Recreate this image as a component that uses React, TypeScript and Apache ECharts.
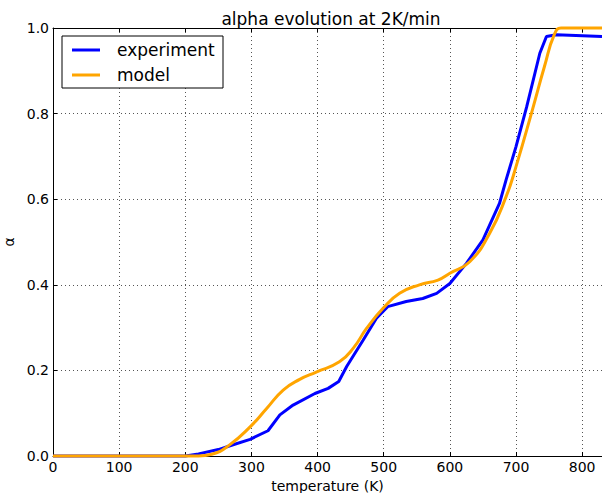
import React, { useEffect, useRef } from "react";
import * as echarts from "echarts";

const expT = [0, 200, 220, 250, 270, 298, 325, 343, 363, 396, 416, 432, 444, 469, 489, 506, 534, 559, 580, 600, 625, 650, 675, 685, 700, 716, 736, 746, 761, 830];
const expA = [0, 0, 0.005, 0.015, 0.025, 0.039, 0.059, 0.096, 0.119, 0.146, 0.158, 0.174, 0.209, 0.271, 0.322, 0.349, 0.361, 0.368, 0.38, 0.403, 0.45, 0.505, 0.59, 0.645, 0.723, 0.815, 0.941, 0.98, 0.984, 0.98];
const modT = [0, 220, 240, 267, 298, 323, 348, 373, 398, 433, 454, 474, 499, 524, 554, 582, 600, 630, 660, 685, 700, 725, 743, 758, 768, 830];
const modA = [0, 0, 0.004, 0.026, 0.068, 0.111, 0.154, 0.179, 0.196, 0.22, 0.252, 0.298, 0.345, 0.38, 0.4, 0.411, 0.427, 0.454, 0.52, 0.606, 0.676, 0.81, 0.91, 0.985, 1.0, 1.0];
const seriesNames = ["experiment", "model"];
const seriesColors = ["#0000ff", "#ffa500"];
const titleText = "alpha evolution at 2K/min";
const xName = "temperature (K)";
const yName = "α";

export default function App() {
  const ref = useRef<HTMLDivElement>(null);
  useEffect(() => {
    document.body.style.margin = "0";
    const chart = echarts.init(ref.current!, null, { renderer: "svg" });
    const font = "DejaVu Sans";
    const tickStyle = { inside: true, length: 4, lineStyle: { color: "#000" } };
    const split = { show: true, lineStyle: { color: "#555", type: [1, 3] as any, width: 1 } };
    chart.setOption({
      animation: false,
      textStyle: { fontFamily: font },
      title: {
        text: titleText, left: 326, textAlign: "center", top: 5,
        textStyle: { fontFamily: font, fontSize: 17, fontWeight: "normal", color: "#000" },
      },
      grid: { left: 53, top: 28, right: 0, bottom: 37, outerBoundsMode: "none", containLabel: false } as any,
      xAxis: [
        {
          type: "value", min: 0, max: 830, interval: 100,
          axisLine: { show: true, lineStyle: { color: "#000" } },
          axisTick: tickStyle,
          axisLabel: { color: "#000", fontSize: 14, fontFamily: font, margin: 4, showMaxLabel: false },
          splitLine: split,
          name: xName, nameLocation: "middle", nameGap: 19,
          nameTextStyle: { color: "#000", fontSize: 14, fontFamily: font },
        },
        {
          type: "value", position: "top", min: 0, max: 830, interval: 100,
          axisLine: { show: true, onZero: false, lineStyle: { color: "#000" } },
          axisTick: tickStyle, axisLabel: { show: false }, splitLine: { show: false },
        },
      ],
      yAxis: {
        type: "value", min: 0, max: 1, interval: 0.2,
        axisLine: { show: true, lineStyle: { color: "#000" } },
        axisTick: tickStyle,
        axisLabel: { color: "#000", fontSize: 14, fontFamily: font, margin: 4, formatter: (v: number) => v.toFixed(1) },
        splitLine: split,
        name: yName, nameLocation: "middle", nameGap: 33, nameRotate: 90,
        nameTextStyle: { color: "#000", fontSize: 14, fontFamily: font },
      },
      series: [
        {
          name: seriesNames[0], type: "line", showSymbol: false, clip: false,
          data: expT.map((t, i) => [t, expA[i]]),
          lineStyle: { color: seriesColors[0], width: 3 }, itemStyle: { color: seriesColors[0] },
        },
        {
          name: seriesNames[1], type: "line", showSymbol: false, clip: false,
          smooth: 0.5,
          data: modT.map((t, i) => [t, modA[i]]),
          lineStyle: { color: seriesColors[1], width: 3 }, itemStyle: { color: seriesColors[1] },
        },
      ],
      graphic: [
        { type: "rect", shape: { x: 62, y: 36, width: 161, height: 52 }, style: { fill: "#fff", stroke: "#000", lineWidth: 1 }, z: 100 },
        { type: "line", shape: { x1: 72, y1: 50, x2: 100, y2: 50 }, style: { stroke: seriesColors[0], lineWidth: 3 }, z: 101 },
        { type: "line", shape: { x1: 72, y1: 75, x2: 100, y2: 75 }, style: { stroke: seriesColors[1], lineWidth: 3 }, z: 101 },
        { type: "text", x: 117, y: 50, style: { text: seriesNames[0], fontFamily: font, fontSize: 17, fill: "#000", verticalAlign: "middle" } as any, z: 101 },
        { type: "text", x: 117, y: 75, style: { text: seriesNames[1], fontFamily: font, fontSize: 17, fill: "#000", verticalAlign: "middle" } as any, z: 101 },
      ],
    });
    return () => chart.dispose();
  }, []);
  return <div ref={ref} style={{ width: 602, height: 493 }} />;
}
